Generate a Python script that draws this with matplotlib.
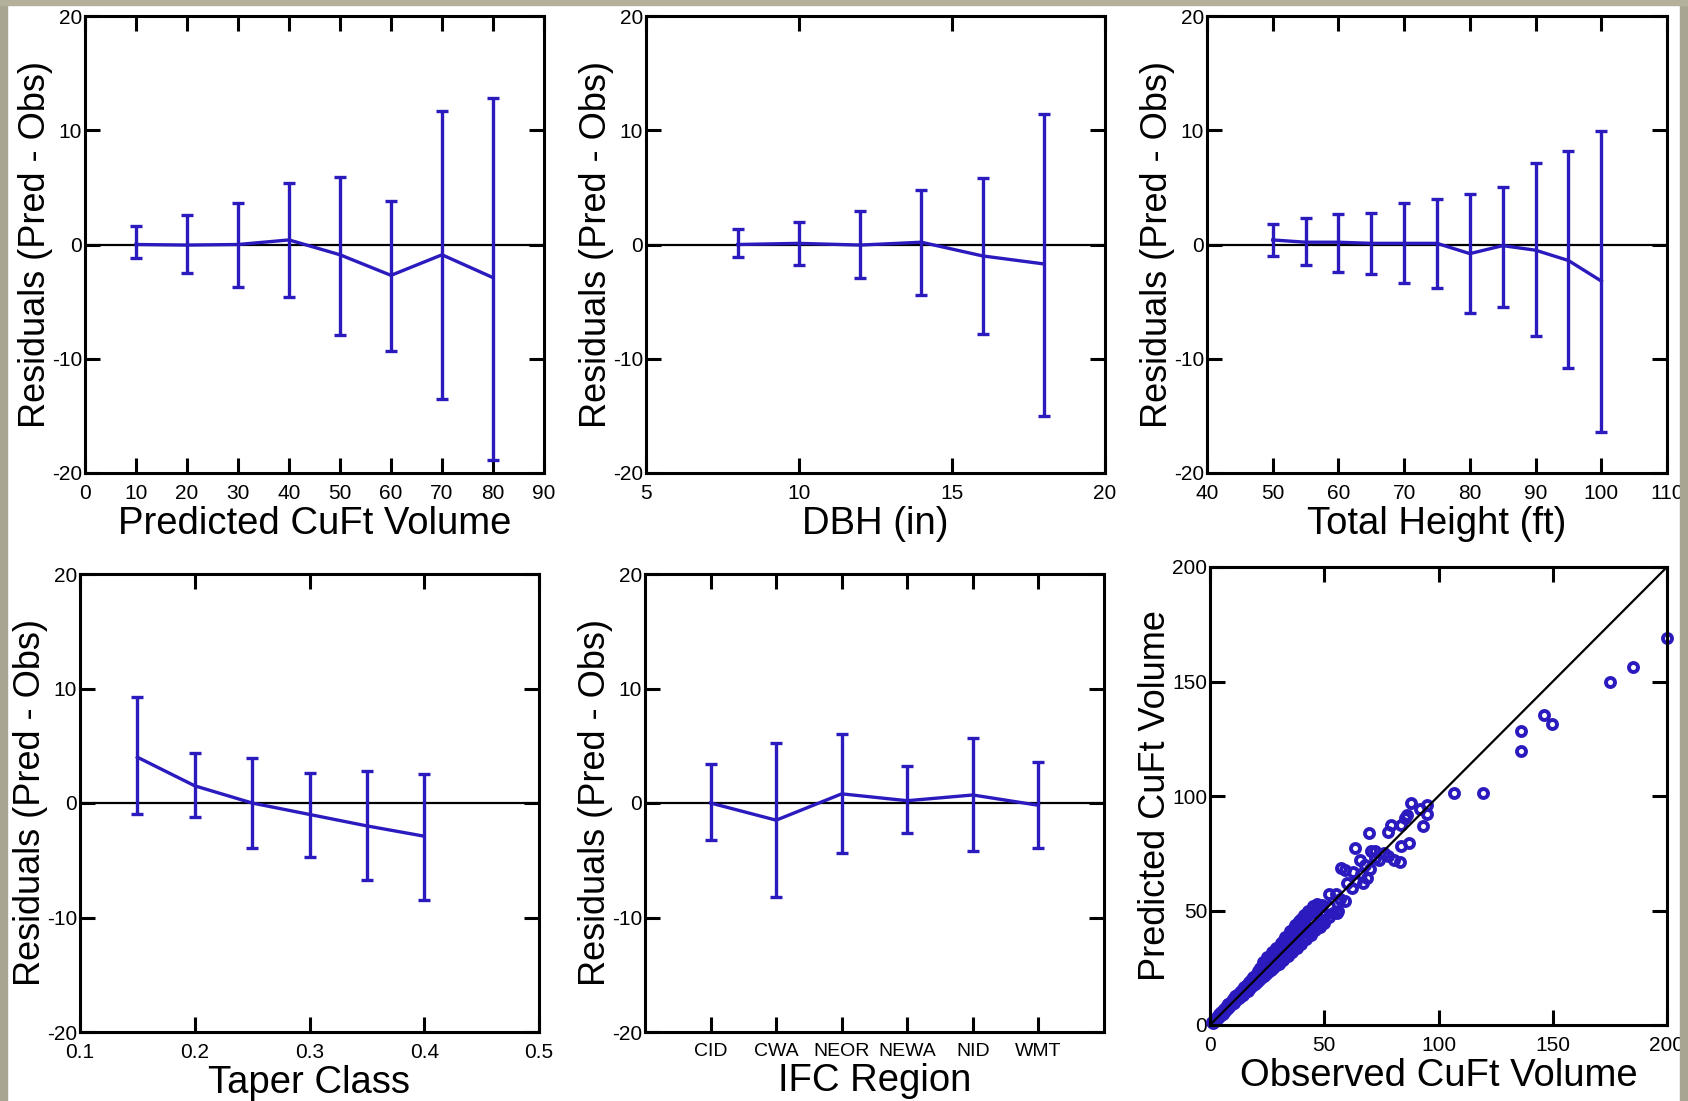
import matplotlib.pyplot as plt
import numpy as np
from matplotlib.patches import Rectangle

# ---- data ----
# residuals vs predicted volume
vol_x = [10, 20, 30, 40, 50, 60, 70, 80]
vol_mean = [0.0, -0.05, 0.0, 0.4, -0.9, -2.7, -0.9, -2.9]
vol_hi = [1.6, 2.6, 3.6, 5.4, 5.9, 3.8, 11.7, 12.8]
vol_lo = [-1.2, -2.5, -3.7, -4.6, -7.9, -9.3, -13.5, -18.9]

# residuals vs DBH
dbh_x = [8, 10, 12, 14, 16, 18]
dbh_mean = [0.0, 0.1, -0.05, 0.2, -1.0, -1.7]
dbh_hi = [1.4, 2.0, 2.9, 4.8, 5.8, 11.4]
dbh_lo = [-1.1, -1.8, -2.9, -4.4, -7.8, -15.0]

# residuals vs total height
ht_x = [50, 55, 60, 65, 70, 75, 80, 85, 90, 95, 100]
ht_mean = [0.4, 0.2, 0.2, 0.1, 0.1, 0.1, -0.8, -0.1, -0.5, -1.4, -3.2]
ht_hi = [1.8, 2.3, 2.7, 2.8, 3.6, 4.0, 4.4, 5.0, 7.1, 8.2, 9.9]
ht_lo = [-1.0, -1.8, -2.4, -2.6, -3.4, -3.8, -6.0, -5.5, -8.0, -10.8, -16.4]

# residuals vs taper class
tap_x = [0.15, 0.20, 0.25, 0.30, 0.35, 0.40]
tap_mean = [4.0, 1.5, 0.0, -1.0, -2.0, -2.9]
tap_hi = [9.3, 4.4, 3.9, 2.6, 2.8, 2.5]
tap_lo = [-1.0, -1.2, -3.9, -4.7, -6.7, -8.5]

# residuals by IFC region
regions = ["CID", "CWA", "NEOR", "NEWA", "NID", "WMT"]
reg_mean = [0.0, -1.5, 0.8, 0.2, 0.7, -0.2]
reg_hi = [3.4, 5.2, 6.0, 3.2, 5.7, 3.6]
reg_lo = [-3.2, -8.2, -4.4, -2.6, -4.2, -3.9]

# observed vs predicted volume (scatter)
obs = [1, 1.5, 2, 2.5, 3, 3.5, 4, 4.5, 5, 5.5, 6, 6.5, 7, 7.5, 8, 8.5, 9, 9.5, 10, 10.5,
       11, 11.5, 12, 12.5, 13, 13.5, 14, 14.5, 15, 15.5, 16, 16.5, 17, 17.5, 18, 18.5, 19, 19.5, 20, 20.5,
       21, 21.5, 22, 22.5, 23, 23.5, 24, 24.5, 25, 25.5, 26, 26.5, 27, 27.5, 28, 28.5, 29, 29.5, 30, 30.5,
       31, 31.5, 32, 32.5, 33, 33.5, 34, 34.5, 35, 35.5, 36, 36.5, 37, 37.5, 38, 38.5, 39, 39.5, 40, 40.5,
       41, 42, 43, 44, 45, 46, 47, 48, 49, 50,
       4, 8, 12, 16, 20, 24, 28, 32, 36, 40, 44,
       6, 10, 14, 18, 22, 26, 30, 34, 38, 42,
       5, 9, 13, 17, 21, 25, 29, 33, 37, 41, 45, 49,
       23, 25, 27, 29, 31, 33, 35, 37, 39, 41, 43, 45, 47,
       30, 32, 34, 36, 38, 40, 42, 44, 46, 48, 50, 52, 54, 56,
       52, 55, 57, 60, 62, 64, 66, 68, 70, 72, 74, 76,
       50, 52, 55.5, 57.5, 59, 59, 62.5, 63.5, 65.5, 67, 68.5, 69.5, 70.5, 72, 78, 78, 79, 80.5,
       83, 83.5, 83.5, 85.5, 86, 87, 88, 93, 92, 95, 95, 107, 119.5, 136, 136, 146, 149.5, 175, 185, 200]
pred = [1.5, 1, 2.5, 2, 3.5, 3, 4.8, 4, 5.5, 5, 6.8, 6, 7.8, 7, 9, 8, 10, 9, 11.2, 9.8,
        12.5, 10.8, 13.2, 11.6, 14.2, 12.5, 15.3, 13.3, 16.5, 14.2, 17.6, 15, 18.8, 16, 19.8, 17, 21, 17.8, 22, 18.8,
        23.5, 19.6, 24.8, 20.5, 25.5, 21.5, 26.8, 22.2, 28, 23, 29.2, 24, 30.5, 25, 31.5, 25.8, 32.8, 26.8, 34, 27.5,
        35, 28.5, 36.5, 29.5, 37.5, 30.5, 38.8, 31.2, 40, 32, 41.5, 33.2, 42.5, 34, 44, 35, 45, 36, 46.5, 37,
        47, 38.5, 48, 40, 49.5, 42, 51, 44, 52.5, 45.5,
        4.5, 9, 13, 17.5, 21, 25.5, 29.5, 33.5, 37.5, 42, 46,
        5.5, 9.5, 13.5, 17, 21.5, 25, 29, 32.5, 36.5, 40.5,
        5.2, 9.5, 13.6, 18, 22, 26, 30, 34, 38, 42, 46, 50,
        27.5, 29.5, 32, 33.5, 36, 38.5, 41, 43.5, 45.5, 48, 50, 52, 53,
        26.5, 28.5, 30, 32, 33.5, 35.5, 37.5, 39.5, 41.5, 43, 44.5, 47, 49, 50,
        52, 57, 55, 62, 60, 63, 66, 70, 68, 73, 72, 75,
        48, 57, 48.8, 68.6, 54, 67.5, 66.6, 77.3, 72.2, 62, 64.2, 83.7, 76.2, 76.2, 74, 84.4, 87.5, 72.2,
        71, 78, 87.5, 90.3, 91.5, 79.4, 97, 87, 94.5, 96, 92, 101.5, 101.5, 128.5, 119.5, 135.5, 131.5, 150, 156.5, 169]

BLUE = "#2b1bbf"
W, H = 1688, 1101

plt.rcParams["font.family"] = ["Liberation Sans", "DejaVu Sans"]
plt.rcParams["axes.unicode_minus"] = False

fig = plt.figure(figsize=(W / 100, H / 100), dpi=100)
fig.patch.set_facecolor("white")


def add_panel(left, top, right, bottom):
    return fig.add_axes([left / W, 1 - bottom / H, (right - left) / W, (bottom - top) / H])


def style(ax, xlabel, ylabel):
    for s in ax.spines.values():
        s.set_linewidth(2.2)
    ax.tick_params(direction="in", top=True, right=True, length=11, width=2.2,
                   labelsize=15)
    ax.tick_params(axis="x", pad=8)
    ax.tick_params(axis="y", pad=2)
    ax.set_xlabel(xlabel, fontsize=27.5, labelpad=2)
    ax.set_ylabel(ylabel, fontsize=26, labelpad=-1)


def resid_panel(ax, x, mean, hi, lo, xlim, xticks, xlabel):
    mean = np.array(mean)
    yerr = [mean - np.array(lo), np.array(hi) - mean]
    ax.axhline(0, color="black", lw=1.6, zorder=1)
    ax.errorbar(x, mean, yerr=yerr, color=BLUE, lw=2.4, elinewidth=2.4,
                capsize=4, capthick=2.4, zorder=3)
    ax.set_xlim(*xlim)
    ax.set_ylim(-20, 20)
    ax.set_xticks(xticks)
    ax.set_yticks([-20, -10, 0, 10, 20])
    style(ax, xlabel, "Residuals (Pred - Obs)")


ax1 = add_panel(85, 16, 544, 473)
resid_panel(ax1, vol_x, vol_mean, vol_hi, vol_lo, (0, 90), np.arange(0, 91, 10),
            "Predicted CuFt Volume")

ax2 = add_panel(646, 16, 1105, 473)
resid_panel(ax2, dbh_x, dbh_mean, dbh_hi, dbh_lo, (5, 20), [5, 10, 15, 20], "DBH (in)")

ax3 = add_panel(1207, 16, 1667, 473)
resid_panel(ax3, ht_x, ht_mean, ht_hi, ht_lo, (40, 110), np.arange(40, 111, 10),
            "Total Height (ft)")

ax4 = add_panel(80, 574, 539, 1032)
resid_panel(ax4, tap_x, tap_mean, tap_hi, tap_lo, (0.1, 0.5), [0.1, 0.2, 0.3, 0.4, 0.5],
            "Taper Class")

ax5 = add_panel(645, 574, 1104, 1032)
reg_pos = np.arange(1, len(regions) + 1)
resid_panel(ax5, reg_pos, reg_mean, reg_hi, reg_lo, (0, 7), reg_pos, "IFC Region")
ax5.set_xticklabels(regions, fontsize=14)

ax6 = add_panel(1210, 567, 1667, 1025)
ax6.plot(obs, pred, linestyle="none", marker="o", markersize=6.5, mfc="none",
         mec=BLUE, mew=2.8, clip_on=False, zorder=2)
ax6.plot([0, 200], [0, 200], color="black", lw=1.6, zorder=3)
ax6.set_xlim(0, 200)
ax6.set_ylim(0, 200)
ax6.set_xticks([0, 50, 100, 150, 200])
ax6.set_yticks([0, 50, 100, 150, 200])
style(ax6, "Observed CuFt Volume", "Predicted CuFt Volume")

# grey frame around the slide
frame = "#a8a593"
fig.patches.append(Rectangle((0, 0), 7 / W, 1, transform=fig.transFigure,
                             color=frame, zorder=20))
fig.patches.append(Rectangle((1680 / W, 0), 8 / W, 1, transform=fig.transFigure,
                             color=frame, zorder=20))
fig.patches.append(Rectangle((0, 1 - 5 / H), 1, 5 / H, transform=fig.transFigure,
                             color="#b5b09c", zorder=20))

fig.savefig("out.png", dpi=100)
